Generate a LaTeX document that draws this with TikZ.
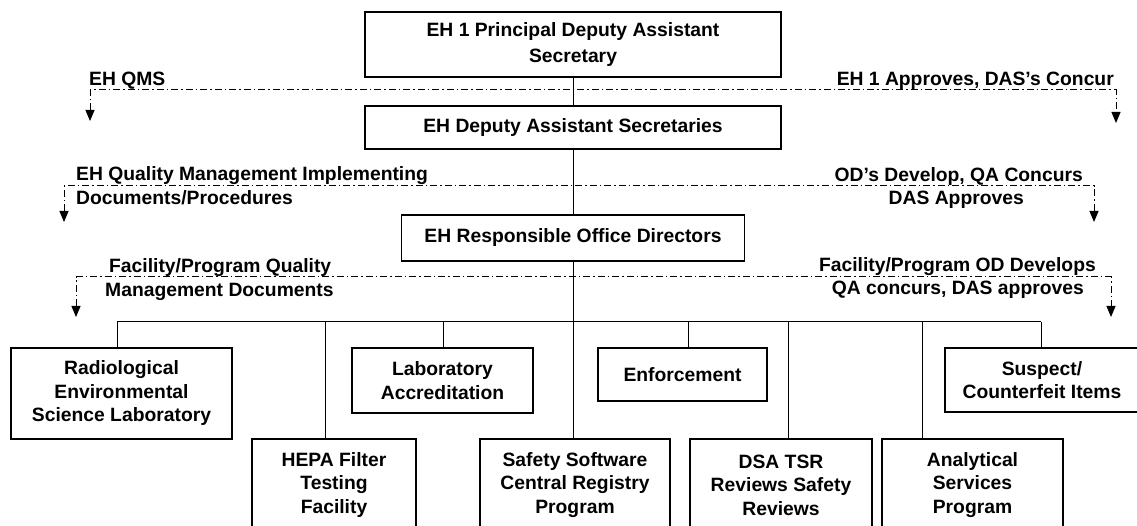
\documentclass[tikz,border=0pt]{standalone}
\usepackage{fontspec}
\setmainfont{Liberation Sans}
\usetikzlibrary{arrows.meta}

\begin{document}
\begin{tikzpicture}[x=1pt,y=-1pt,
  box/.style={draw,line width=1.1pt,align=center,inner sep=0pt,font=\bfseries\fontsize{19.3}{23.5}\selectfont},
  lbl/.style={inner sep=0pt,font=\bfseries\fontsize{19.3}{23.5}\selectfont},
  flow/.style={line width=1pt,dash pattern=on 7pt off 3pt on 1.5pt off 3pt,{Triangle[length=11pt,width=9pt]}-{Triangle[length=11pt,width=9pt]}},
  tree/.style={line width=1pt}]

\useasboundingbox[fill=white] (0,0) rectangle (1137,526);

% upper chain
\node[box,minimum width=416pt,minimum height=65pt] (pdas) at (573,44.5) {EH 1 Principal Deputy Assistant\\[3pt]Secretary};
\node[box,minimum width=416pt,minimum height=43pt] (das) at (573,127.5) {EH Deputy Assistant Secretaries};
\node[box,minimum width=343pt,minimum height=46pt] (od) at (573,238) {EH Responsible Office Directors};

% offices
\node[box,minimum width=221pt,minimum height=91pt] (resl) at (121.5,393.5) {Radiological\\Environmental\\Science Laboratory};
\node[box,minimum width=181pt,minimum height=65pt] (lab) at (442.5,380.5) {Laboratory\\Accreditation};
\node[box,minimum width=169pt,minimum height=53pt] (enf) at (682.5,374.5) {Enforcement};
\node[box,minimum width=194pt,minimum height=64pt] (sci) at (1042,380) {Suspect/\\Counterfeit Items};
\node[box,minimum width=164pt,minimum height=92pt] (hepa) at (334,485) {HEPA Filter\\Testing\\Facility};
\node[box,minimum width=190pt,minimum height=92pt] (sscr) at (575,485) {Safety Software\\Central Registry\\Program};
\node[box,minimum width=182pt,minimum height=92pt] (dsa) at (781,485) {DSA TSR\\Reviews Safety\\Reviews};
\node[box,minimum width=181pt,minimum height=92pt] (asp) at (972.5,485) {Analytical\\Services\\Program};

\draw[tree] (pdas) -- (das);
\draw[tree] (das) -- (od);
\coordinate (bus) at (573,322);
\draw[tree] (od) -- (bus);

\foreach \n/\x in {resl/117,hepa/325,lab/443,sscr/573,enf/688,dsa/788,asp/922,sci/1041}
{
\coordinate (b\n) at (\x,322);
\draw[tree] (b\n) -- (b\n |- \n.north);
}
\draw[tree] (bresl) -- (bsci);

% approval flows
\coordinate (q1a) at (90,121);
\coordinate (q1b) at (90,90);
\coordinate (q1c) at (1116,90);
\coordinate (q1d) at (1116,123);
\draw[flow] (q1a) -- (q1b) -- (q1c) -- (q1d);
\node[lbl,anchor=base west] (qms) at (89,86) {EH QMS};
\node[lbl,anchor=base east] (ehapp) at (1114,86) {EH 1 Approves, DAS's Concur};

\coordinate (q2a) at (64,222);
\coordinate (q2b) at (64,186);
\coordinate (q2c) at (1094,186);
\coordinate (q2d) at (1094,222);
\draw[flow] (q2a) -- (q2b) -- (q2c) -- (q2d);
\node[lbl,anchor=base west] (qmi) at (76,181) {EH Quality Management Implementing};
\node[lbl,anchor=base west] (proc) at (76,205) {Documents/Procedures};
\node[lbl,anchor=base east] (oddev) at (1083,182) {OD's Develop, QA Concurs};
\node[lbl,anchor=base east] (dasapp) at (1024,205) {DAS Approves};

\coordinate (q3a) at (76,317);
\coordinate (q3b) at (76,277);
\coordinate (q3c) at (1111,277);
\coordinate (q3d) at (1111,317);
\draw[flow] (q3a) -- (q3b) -- (q3c) -- (q3d);
\node[lbl,anchor=base west] (fpq) at (109,273) {Facility/Program Quality};
\node[lbl,anchor=base west] (mdoc) at (105,297) {Management Documents};
\node[lbl,anchor=base east] (fpod) at (1096,272) {Facility/Program OD Develops};
\node[lbl,anchor=base east] (qadas) at (1084,295) {QA concurs, DAS approves};

\end{tikzpicture}
\end{document}
